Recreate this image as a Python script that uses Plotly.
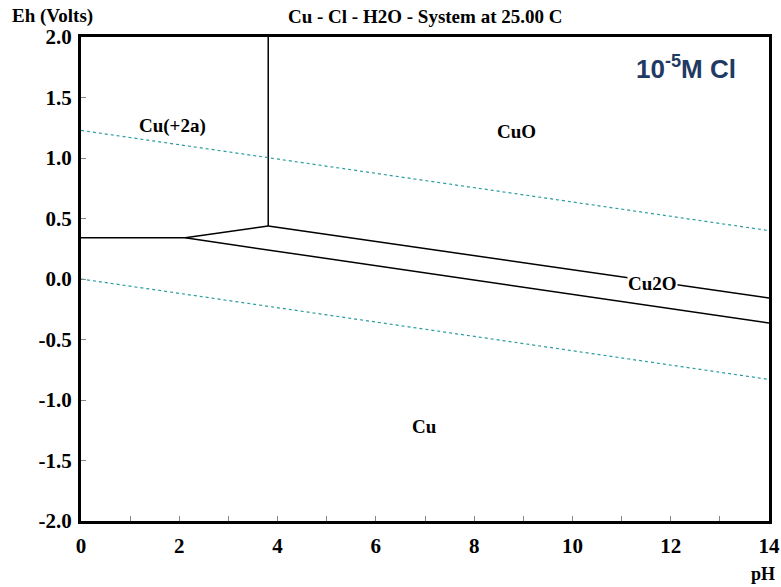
import plotly.graph_objects as go

# Stability field boundaries (pH, Eh in volts)
cu2_cu_ph = [0.0, 2.12]
cu2_cu_eh = [0.34, 0.34]

cu2_cu2o_ph = [2.12, 3.81]
cu2_cu2o_eh = [0.34, 0.438]

cu2_cuo_ph = [3.81, 3.81]
cu2_cuo_eh = [0.438, 2.0]

cuo_cu2o_ph = [3.81, 14.0]
cuo_cu2o_eh = [0.438, -0.157]

cu2o_cu_ph = [2.12, 14.0]
cu2o_cu_eh = [0.34, -0.364]

# Water stability limits
o2_ph = [0.0, 14.0]
o2_eh = [1.228, 0.40]
h2_ph = [0.0, 14.0]
h2_eh = [0.0, -0.83]

# Field labels
field_names = ["Cu(+2a)", "CuO", "Cu2O", "Cu"]
field_ph = [1.86, 8.87, 11.62, 6.98]
field_eh = [1.264, 1.22, -0.04, -1.215]

x_ticks = [0, 2, 4, 6, 8, 10, 12, 14]
x_labels = ["0", "2", "4", "6", "8", "10", "12", "14"]
x_minor = [1, 3, 5, 7, 9, 11, 13]
y_ticks = [-2.0, -1.5, -1.0, -0.5, 0.0, 0.5, 1.0, 1.5, 2.0]
y_labels = ["-2.0", "-1.5", "-1.0", "-0.5", "0.0", "0.5", "1.0", "1.5", "2.0"]

serif = "Liberation Serif"
water_color = "#2a9d9d"

fig = go.Figure()

for px, py in [(cu2_cu_ph, cu2_cu_eh), (cu2_cu2o_ph, cu2_cu2o_eh),
               (cu2_cuo_ph, cu2_cuo_eh), (cuo_cu2o_ph, cuo_cu2o_eh),
               (cu2o_cu_ph, cu2o_cu_eh)]:
    fig.add_trace(go.Scatter(x=px, y=py, mode="lines",
                             line=dict(color="black", width=1.5),
                             hoverinfo="skip", showlegend=False))

for px, py in [(o2_ph, o2_eh), (h2_ph, h2_eh)]:
    fig.add_trace(go.Scatter(x=px, y=py, mode="lines",
                             line=dict(color=water_color, width=1.2, dash="dot"),
                             hoverinfo="skip", showlegend=False))

for name, px, py in zip(field_names, field_ph, field_eh):
    fig.add_annotation(x=px, y=py, text="<b>" + name + "</b>", showarrow=False,
                       font=dict(family=serif, size=19, color="black"),
                       bgcolor="white" if name == "Cu2O" else None,
                       borderpad=0)

axis_common = dict(showline=True, linecolor="black", linewidth=3, mirror=True,
                   ticks="inside", ticklen=5, tickcolor="#888888", tickwidth=1,
                   showgrid=False, zeroline=False, automargin=False,
                   tickfont=dict(family=serif, size=21, color="black"))

fig.update_xaxes(range=[0, 14], tickvals=x_ticks,
                 ticktext=["<b>" + t + "</b>" for t in x_labels],
                 ticklabelstandoff=4,
                 minor=dict(tickvals=x_minor, ticks="inside", ticklen=5,
                            tickcolor="#888888", tickwidth=1),
                 **axis_common)
fig.update_yaxes(range=[-2, 2], tickvals=y_ticks,
                 ticktext=["<b>" + t + "</b>" for t in y_labels],
                 ticklabelstandoff=2,
                 **axis_common)

fig.add_annotation(xref="paper", yref="paper", x=-0.103, y=1.0, yshift=21,
                   xanchor="left", yanchor="middle", text="<b>Eh (Volts)</b>",
                   showarrow=False, font=dict(family=serif, size=19, color="black"))
fig.add_annotation(xref="paper", yref="paper", x=0.5, y=1.0, yshift=21,
                   xanchor="center", yanchor="middle",
                   text="<b>Cu - Cl - H2O - System at 25.00 C</b>", showarrow=False,
                   font=dict(family=serif, size=19, color="black"))
fig.add_annotation(xref="paper", yref="paper", x=1.01, y=0.0, yshift=-64,
                   xanchor="right", yanchor="bottom", text="<b>pH</b>", showarrow=False,
                   borderpad=0,
                   font=dict(family=serif, size=18, color="black"))
fig.add_annotation(xref="paper", yref="paper", x=0.955, y=0.938,
                   xanchor="right", yanchor="middle",
                   text="<b>10<sup>-5</sup>M Cl</b>", showarrow=False,
                   font=dict(family="Liberation Sans", size=26, color="#1f3a63"))

fig.update_layout(width=781, height=587,
                  margin=dict(l=81, r=12, t=37, b=66),
                  paper_bgcolor="white", plot_bgcolor="white")

fig.write_html("out.html")
